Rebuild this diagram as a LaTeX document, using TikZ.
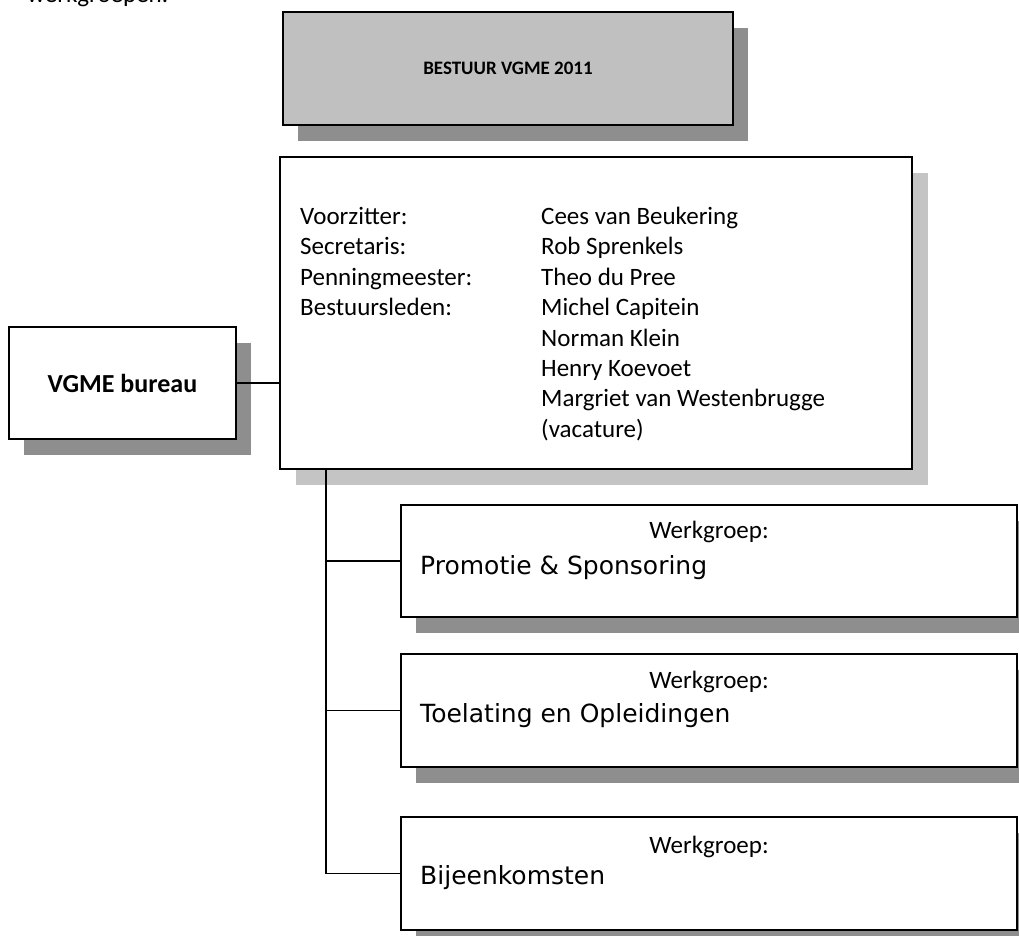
\documentclass[tikz,border=0pt]{standalone}
\usepackage{fontspec}
\setmainfont{Carlito}
\newfontfamily\wgfont{DejaVu Sans}
\usetikzlibrary{shadows}
\definecolor{boxgray}{HTML}{C0C0C0}
\definecolor{darkshadow}{HTML}{8E8E8E}
\definecolor{lightshadow}{HTML}{C4C4C4}
\begin{document}
\begin{tikzpicture}[x=1pt,y=-1pt,
  box/.style={draw=black, line width=1.8pt, fill=white, inner sep=0pt},
  darkshad/.style={drop shadow={shadow xshift=15pt, shadow yshift=-16pt, opacity=1, fill=darkshadow}},
  lightshad/.style={drop shadow={shadow xshift=16pt, shadow yshift=-16pt, opacity=1, fill=lightshadow}},
  conn/.style={draw=black, line width=1.6pt},
  txt/.style={font=\fontsize{25}{30.4}\selectfont, inner sep=0pt},
  wgname/.style={font=\wgfont\fontsize{25}{30}\selectfont, inner sep=0pt, anchor=base west},
  wglabel/.style={font=\fontsize{25}{30}\selectfont, inner sep=0pt, anchor=base},
]
\useasboundingbox[fill=white] (0,0) rectangle (1019,936);

\node[txt, anchor=base west] (intro) at (27,3) {werkgroepen.};

% top box
\node[box, darkshad, fill=boxgray, minimum width=450pt, minimum height=113pt] (top) at (508,68.5) {};
\node[font=\bfseries\fontsize{19}{24}\selectfont, inner sep=0pt] (toptext) at (top.center) {BESTUUR VGME 2011};

% board box
\node[box, lightshad, minimum width=632pt, minimum height=312pt] (big) at (596,313) {};
\node[txt, align=left, anchor=north west] (roles) at (300,207) {Voorzitter:\\Secretaris:\\Penningmeester:\\Bestuursleden:};
\node[txt, align=left, anchor=north west] (names) at (541,207) {Cees van Beukering\\Rob Sprenkels\\Theo du Pree\\Michel Capitein\\Norman Klein\\Henry Koevoet\\Margriet van Westenbrugge\\(vacature)};

% bureau box
\node[box, darkshad, minimum width=227pt, minimum height=112pt] (bureau) at (122.5,383) {};
\node[font=\bfseries\fontsize{26}{30}\selectfont, inner sep=0pt] (bureautext) at (bureau.center) {VGME bureau};

% werkgroep boxes
\node[box, darkshad, minimum width=616pt, minimum height=112pt] (wg1) at (709,561) {};
\node[wglabel] (wg1a) at (709,538) {Werkgroep:};
\node[wgname] (wg1b) at (420,574) {Promotie \& Sponsoring};

\node[box, darkshad, minimum width=616pt, minimum height=113pt] (wg2) at (709,710.5) {};
\node[wglabel] (wg2a) at (709,688) {Werkgroep:};
\node[wgname] (wg2b) at (420,722) {Toelating en Opleidingen};

\node[box, darkshad, minimum width=616pt, minimum height=113pt] (wg3) at (709,873.5) {};
\node[wglabel] (wg3a) at (709,853) {Werkgroep:};
\node[wgname] (wg3b) at (420,884) {Bijeenkomsten};

% connectors
\draw[conn] (bureau.east) -- (bureau.east -| big.west);
\coordinate (trunk) at (326,469);
\draw[conn] (trunk) |- (wg3.west);
\draw[conn] (trunk |- wg1.west) -- (wg1.west);
\draw[conn] (trunk |- wg2.west) -- (wg2.west);
\end{tikzpicture}
\end{document}
